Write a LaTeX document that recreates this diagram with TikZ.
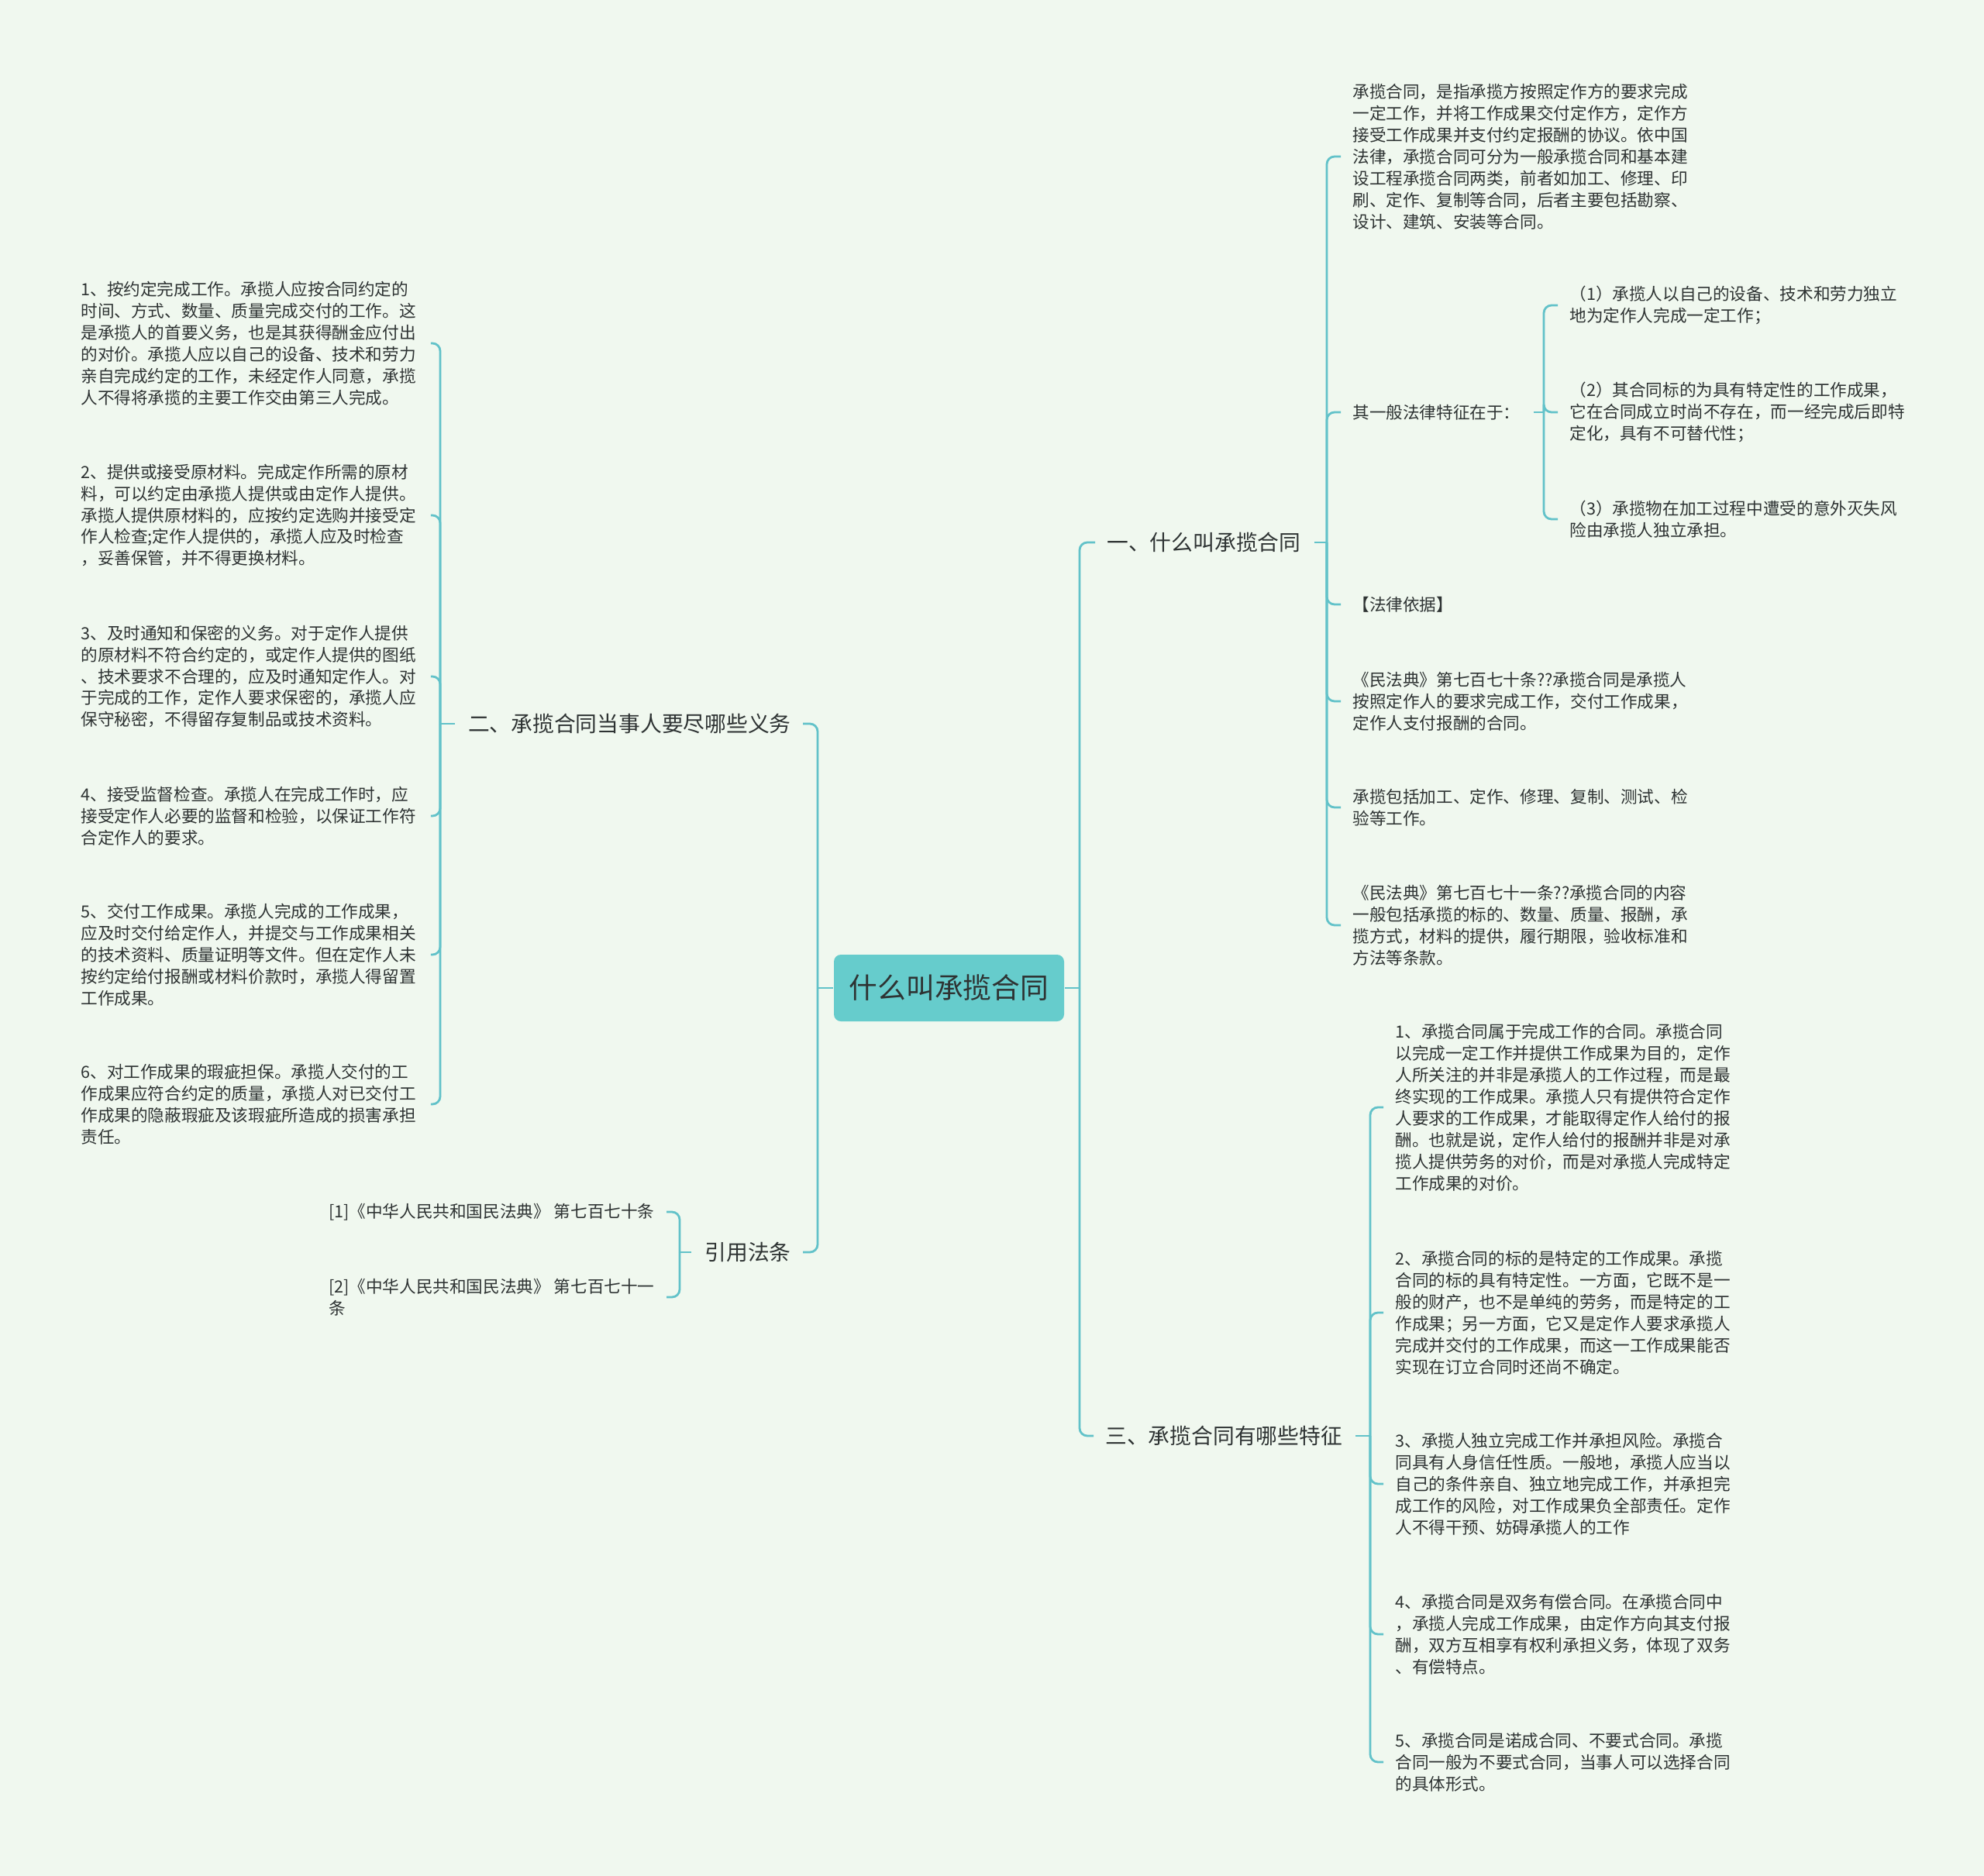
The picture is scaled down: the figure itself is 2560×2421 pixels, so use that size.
\documentclass[tikz,border=0pt]{standalone}
\usepackage{fontspec}
\setmainfont{Noto Sans CJK SC}
\definecolor{mint}{HTML}{F0F8EF}
\definecolor{rootteal}{HTML}{66CCCC}
\definecolor{linkteal}{HTML}{62C2C9}
\definecolor{ink}{HTML}{2E3333}

\begin{document}
\begin{tikzpicture}[%
    x = 0.2mm, y = -0.2mm,
    line width = 0.56mm,
    link/.style = {draw = linkteal, rounded corners = 2mm, shorten >= 2.8mm},
    stub/.style = {draw = linkteal, shorten <= 3.2mm},
    root/.style = {%
      fill = rootteal,
      text = ink,
      rounded corners = 1.8mm,
      minimum width = 59.4mm,
      minimum height = 17.2mm,
      font = \fontsize{20.9pt}{25pt}\selectfont },
    topic/.style = {inner sep = 0pt, text = ink, font = \fontsize{15.8pt}{19pt}\selectfont},
    note/.style = {inner sep = 0pt, text = ink, align = left, font = \fontsize{12.3pt}{15.9pt}\selectfont},
    para/.style = {note, text width = 87.2mm}
  ]

  \fill[mint] (0,0) rectangle (2560,2421);
  \useasboundingbox (0,0) rectangle (2560,2421);

  \node[root] (root) at (1224.5,1275) {什么叫承揽合同};

  % main topics
  \node[topic, anchor=west] (one) at (1427,700) {一、什么叫承揽合同};
  \node[topic, anchor=west] (three) at (1425,1853) {三、承揽合同有哪些特征};
  \node[topic, anchor=east] (two) at (1022,934) {二、承揽合同当事人要尽哪些义务};
  \node[topic, anchor=east] (cite) at (1022,1616) {引用法条};

  % trunk points
  \coordinate (rootR) at (1393,1275);
  \coordinate (rootL) at (1055,1275);
  \coordinate (oneT) at (1712,700);
  \coordinate (featT) at (1992,532);
  \coordinate (threeT) at (1768,1853);
  \coordinate (twoT) at (568,934);
  \coordinate (citeT) at (877,1616);

  % 一
  \node[para, anchor=west] (def) at (1744,202) {承揽合同，是指承揽方按照定作方的要求完成\\一定工作，并将工作成果交付定作方，定作方\\接受工作成果并支付约定报酬的协议。依中国\\法律，承揽合同可分为一般承揽合同和基本建\\设工程承揽合同两类，前者如加工、修理、印\\刷、定作、复制等合同，后者主要包括勘察、\\设计、建筑、安装等合同。};
  \node[note, anchor=west] (feat) at (1744,532) {其一般法律特征在于：};
  \node[note, anchor=west] (basis) at (1744,780) {【法律依据】};
  \node[para, anchor=west] (art770) at (1744,905) {《民法典》第七百七十条??承揽合同是承揽人\\按照定作人的要求完成工作，交付工作成果，\\定作人支付报酬的合同。};
  \node[para, anchor=west] (scope) at (1744,1042) {承揽包括加工、定作、修理、复制、测试、检\\验等工作。};
  \node[para, anchor=west] (art771) at (1744,1194) {《民法典》第七百七十一条??承揽合同的内容\\一般包括承揽的标的、数量、质量、报酬，承\\揽方式，材料的提供，履行期限，验收标准和\\方法等条款。};

  \node[para, anchor=west] (featA) at (2024,394) {（1）承揽人以自己的设备、技术和劳力独立\\地为定作人完成一定工作；};
  \node[para, anchor=west] (featB) at (2024,532) {（2）其合同标的为具有特定性的工作成果，\\它在合同成立时尚不存在，而一经完成后即特\\定化，具有不可替代性；};
  \node[para, anchor=west] (featC) at (2024,670) {（3）承揽物在加工过程中遭受的意外灭失风\\险由承揽人独立承担。};

  % 三
  \node[para, anchor=west] (trA) at (1799,1429) {1、承揽合同属于完成工作的合同。承揽合同\\以完成一定工作并提供工作成果为目的，定作\\人所关注的并非是承揽人的工作过程，而是最\\终实现的工作成果。承揽人只有提供符合定作\\人要求的工作成果，才能取得定作人给付的报\\酬。也就是说，定作人给付的报酬并非是对承\\揽人提供劳务的对价，而是对承揽人完成特定\\工作成果的对价。};
  \node[para, anchor=west] (trB) at (1799,1694) {2、承揽合同的标的是特定的工作成果。承揽\\合同的标的具有特定性。一方面，它既不是一\\般的财产，也不是单纯的劳务，而是特定的工\\作成果；另一方面，它又是定作人要求承揽人\\完成并交付的工作成果，而这一工作成果能否\\实现在订立合同时还尚不确定。};
  \node[para, anchor=west] (trC) at (1799,1915) {3、承揽人独立完成工作并承担风险。承揽合\\同具有人身信任性质。一般地，承揽人应当以\\自己的条件亲自、独立地完成工作，并承担完\\成工作的风险，对工作成果负全部责任。定作\\人不得干预、妨碍承揽人的工作};
  \node[para, anchor=west] (trD) at (1799,2109) {4、承揽合同是双务有偿合同。在承揽合同中\\，承揽人完成工作成果，由定作方向其支付报\\酬，双方互相享有权利承担义务，体现了双务\\、有偿特点。};
  \node[para, anchor=west] (trE) at (1799,2274) {5、承揽合同是诺成合同、不要式合同。承揽\\合同一般为不要式合同，当事人可以选择合同\\的具体形式。};

  % 二
  \node[para, anchor=west] (dutyA) at (103,443) {1、按约定完成工作。承揽人应按合同约定的\\时间、方式、数量、质量完成交付的工作。这\\是承揽人的首要义务，也是其获得酬金应付出\\的对价。承揽人应以自己的设备、技术和劳力\\亲自完成约定的工作，未经定作人同意，承揽\\人不得将承揽的主要工作交由第三人完成。};
  \node[para, anchor=west] (dutyB) at (103,665) {2、提供或接受原材料。完成定作所需的原材\\料，可以约定由承揽人提供或由定作人提供。\\承揽人提供原材料的，应按约定选购并接受定\\作人检查;定作人提供的，承揽人应及时检查\\，妥善保管，并不得更换材料。};
  \node[para, anchor=west] (dutyC) at (103,873) {3、及时通知和保密的义务。对于定作人提供\\的原材料不符合约定的，或定作人提供的图纸\\、技术要求不合理的，应及时通知定作人。对\\于完成的工作，定作人要求保密的，承揽人应\\保守秘密，不得留存复制品或技术资料。};
  \node[para, anchor=west] (dutyD) at (103,1053) {4、接受监督检查。承揽人在完成工作时，应\\接受定作人必要的监督和检验，以保证工作符\\合定作人的要求。};
  \node[para, anchor=west] (dutyE) at (103,1232) {5、交付工作成果。承揽人完成的工作成果，\\应及时交付给定作人，并提交与工作成果相关\\的技术资料、质量证明等文件。但在定作人未\\按约定给付报酬或材料价款时，承揽人得留置\\工作成果。};
  \node[para, anchor=west] (dutyF) at (103,1425) {6、对工作成果的瑕疵担保。承揽人交付的工\\作成果应符合约定的质量，承揽人对已交付工\\作成果的隐蔽瑕疵及该瑕疵所造成的损害承担\\责任。};

  % 引用法条
  \node[note, anchor=east] (lawA) at (846,1564) {[1]《中华人民共和国民法典》 第七百七十条};
  \node[note, anchor=east] (lawB) at (846,1674) {[2]《中华人民共和国民法典》 第七百七十一\\条};

  % connectors
  \draw[stub, shorten <= 0pt] (root.east) -- (rootR);
  \draw[stub, shorten <= 0pt] (root.west) -- (rootL);
  \foreach \n in {one, three} \draw[link] (rootR) |- (\n);
  \foreach \n in {two, cite} \draw[link] (rootL) |- (\n);

  \draw[stub] (one.east) -- (oneT);
  \foreach \n in {def, feat, basis, art770, scope, art771} \draw[link] (oneT) |- (\n);
  \draw[stub] (feat.east) -- (featT);
  \foreach \n in {featA, featB, featC} \draw[link] (featT) |- (\n);

  \draw[stub] (three.east) -- (threeT);
  \foreach \n in {trA, trB, trC, trD, trE} \draw[link] (threeT) |- (\n);

  \draw[stub] (two.west) -- (twoT);
  \foreach \n in {dutyA, dutyB, dutyC, dutyD, dutyE, dutyF} \draw[link] (twoT) |- (\n);

  \draw[stub] (cite.west) -- (citeT);
  \foreach \n in {lawA, lawB} \draw[link] (citeT) |- (\n);

\end{tikzpicture}
\end{document}
